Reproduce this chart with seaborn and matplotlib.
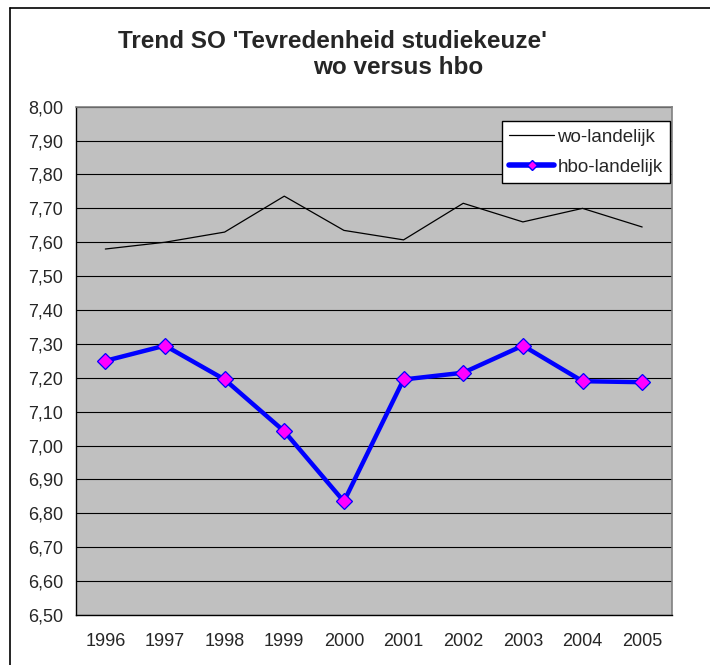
import pandas as pd
import matplotlib.pyplot as plt
import matplotlib.ticker as mticker
from matplotlib.lines import Line2D
import seaborn as sns

years = [1996, 1997, 1998, 1999, 2000, 2001, 2002, 2003, 2004, 2005]
wo_landelijk = [7.58, 7.60, 7.63, 7.736, 7.635, 7.607, 7.715, 7.66, 7.70, 7.645]
hbo_landelijk = [7.25, 7.295, 7.195, 7.042, 6.835, 7.195, 7.215, 7.295, 7.19, 7.187]
series_names = ['wo-landelijk', 'hbo-landelijk']

df = pd.DataFrame({'Jaar': years, 'wo-landelijk': wo_landelijk, 'hbo-landelijk': hbo_landelijk})
df_long = df.melt(id_vars='Jaar', var_name='Reeks', value_name='Score')

sns.set_style('white')
plt.rcParams['font.family'] = ['Liberation Sans', 'DejaVu Sans']

fig = plt.figure(figsize=(7.10, 6.65), dpi=100)
ax = fig.add_axes([75.5 / 710, 50 / 665, 596.5 / 710, 508.3 / 665])
ax.set_facecolor('#c0c0c0')

sns.lineplot(data=df_long[df_long['Reeks'] == 'wo-landelijk'], x='Jaar', y='Score',
             color='black', linewidth=0.9, ax=ax, legend=False)
sns.lineplot(data=df_long[df_long['Reeks'] == 'hbo-landelijk'], x='Jaar', y='Score',
             color='#0000ff', linewidth=3.2, marker='D', markersize=8,
             markerfacecolor='#ff00ff', markeredgecolor='#0000ff', markeredgewidth=0.9,
             ax=ax, legend=False)

ax.set_xlim(years[0] - 0.5, years[-1] + 0.5)
ax.set_ylim(6.5, 8.0)
ax.set_yticks([6.5 + 0.1 * i for i in range(16)])
ax.yaxis.set_major_formatter(mticker.FuncFormatter(lambda v, p: f'{v:.2f}'.replace('.', ',')))
ax.yaxis.grid(True, color='black', linewidth=0.8)
ax.set_axisbelow(True)

# category axis: ticks between categories, labels centred
ax.set_xticks([y - 0.5 for y in years] + [years[-1] + 0.5])
ax.set_xticklabels([])
ax.set_xticks(years, minor=True)
ax.set_xticklabels([str(y) for y in years], minor=True)
ax.tick_params(axis='x', which='minor', length=0, labelsize=13, pad=13)
ax.tick_params(axis='x', which='major', direction='out', length=5, width=1, color='black')
ax.tick_params(axis='y', direction='out', length=5, width=1, color='black', labelsize=13, pad=4)
ax.set_xlabel('')
ax.set_ylabel('')

for side in ['left', 'bottom']:
    ax.spines[side].set_color('black')
    ax.spines[side].set_linewidth(1)
for side in ['top', 'right']:
    ax.spines[side].set_color('#808080')
    ax.spines[side].set_linewidth(1.2)

handles = [Line2D([], [], color='black', linewidth=0.9),
           Line2D([], [], color='#0000ff', linewidth=4, marker='D', markersize=5,
                  markerfacecolor='#ff00ff', markeredgecolor='#0000ff')]
leg = fig.legend(handles, series_names, loc='upper left', bbox_to_anchor=(502 / 710, 1 - 121 / 665),
                 fontsize=13.5, frameon=True, fancybox=False, framealpha=1, edgecolor='black',
                 handlelength=2.4, handletextpad=0.15, borderpad=0.4, labelspacing=0.7,
                 borderaxespad=0, numpoints=1)
leg.get_frame().set_linewidth(1)

fig.text(332 / 710, 1 - 42 / 665, "Trend SO 'Tevredenheid studiekeuze'", ha='center', va='center',
         fontsize=17.5, fontweight='bold')
fig.text(398 / 710, 1 - 68 / 665, 'wo versus hbo', ha='center', va='center',
         fontsize=17.5, fontweight='bold')

# outer chart frame
fig.add_artist(Line2D([10 / 710, 1], [1 - 8 / 665, 1 - 8 / 665], color='black', linewidth=1.2,
                      transform=fig.transFigure))
fig.add_artist(Line2D([10 / 710, 10 / 710], [0, 1 - 8 / 665], color='black', linewidth=1.2,
                      transform=fig.transFigure))

fig.savefig('out.png', dpi=100)
